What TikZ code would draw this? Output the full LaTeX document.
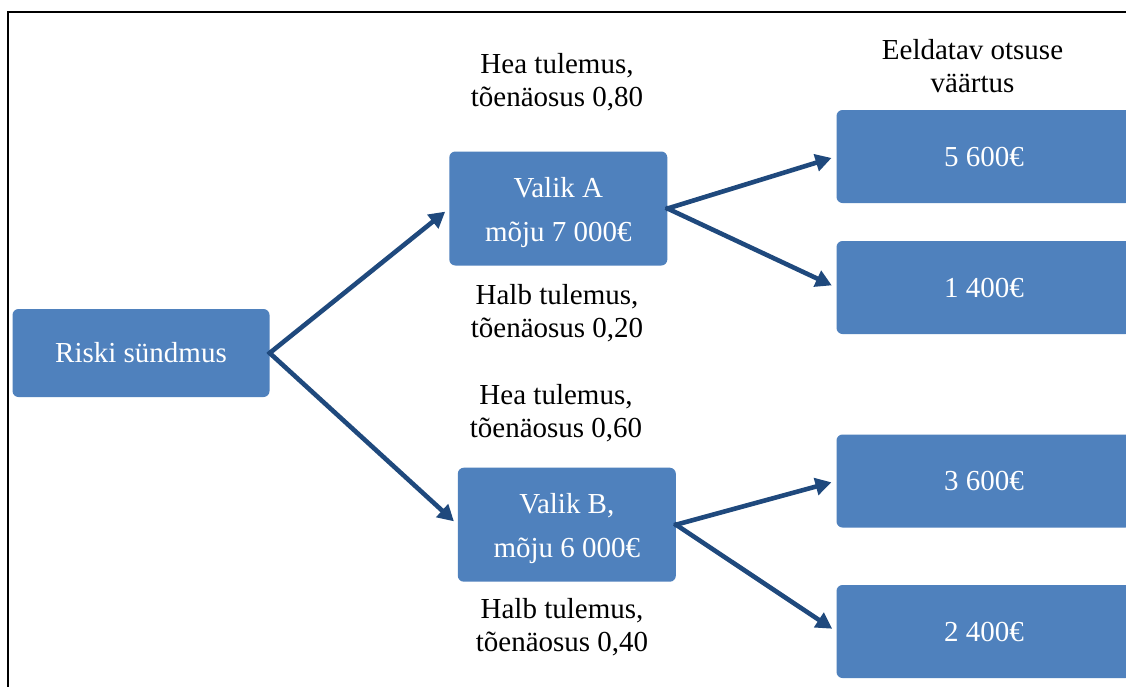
\documentclass[tikz,border=0pt]{standalone}
\usepackage{fontspec}
\setmainfont{Liberation Serif}
\usetikzlibrary{arrows.meta}
\definecolor{boxblue}{HTML}{4F81BD}
\definecolor{arrowblue}{HTML}{1F497D}
\tikzset{
  bluebox/.style={draw=none, fill=boxblue, rounded corners=6pt, text=white, align=center,
    font=\fontsize{29}{44}\selectfont, inner sep=0pt},
  lbl/.style={align=center, font=\fontsize{29}{33}\selectfont, inner sep=0pt, text=black},
  conn/.style={draw=arrowblue, line width=4.6pt, -{Triangle[length=16pt,width=17pt]}, shorten >=5pt, shorten <=-2pt}
}
\begin{document}
\begin{tikzpicture}[x=1pt,y=-1pt]
\useasboundingbox (0,0) rectangle (1126,686);
\clip (0,0) rectangle (1126,686);
\fill[white] (0,0) rectangle (1126,686);
\draw[line width=1.6pt, black] (8,690) -- (8,12) -- (1130,12);

\node[bluebox, minimum width=257pt, minimum height=88pt] (r) at (141,353) {Riski sündmus};
\node[bluebox, minimum width=218pt, minimum height=114pt] (a) at (558.3,208.5) {\rule{0pt}{28pt}Valik A\\mõju 7 000€};
\node[bluebox, minimum width=218pt, minimum height=114pt] (b) at (566.8,524.7) {\rule{0pt}{28pt}Valik B,\\mõju 6 000€};
\node[bluebox, minimum width=295pt, minimum height=93pt] (v1) at (984,156.5) {5 600€};
\node[bluebox, minimum width=295pt, minimum height=93pt] (v2) at (984,287.5) {1 400€};
\node[bluebox, minimum width=295pt, minimum height=93pt] (v3) at (984,481) {3 600€};
\node[bluebox, minimum width=295pt, minimum height=93pt] (v4) at (984,631.5) {2 400€};

\node[lbl] (t1) at (557,82) {Hea tulemus,\\tõenäosus 0,80};
\node[lbl] (t2) at (557,313) {Halb tulemus,\\tõenäosus 0,20};
\node[lbl] (t3) at (556,413) {Hea tulemus,\\tõenäosus 0,60};
\node[lbl] (t4) at (562,627) {Halb tulemus,\\tõenäosus 0,40};
\node[lbl] (t5) at (972.5,66) {Eeldatav otsuse\\väärtus};

\draw[conn] (r.east) -- (a.west);
\draw[conn] (r.east) -- (b.west);
\draw[conn] (a.east) -- (v1.west);
\draw[conn] (a.east) -- (v2.west);
\draw[conn] (b.east) -- (v3.west);
\draw[conn] (b.east) -- (v4.west);
\end{tikzpicture}
\end{document}
